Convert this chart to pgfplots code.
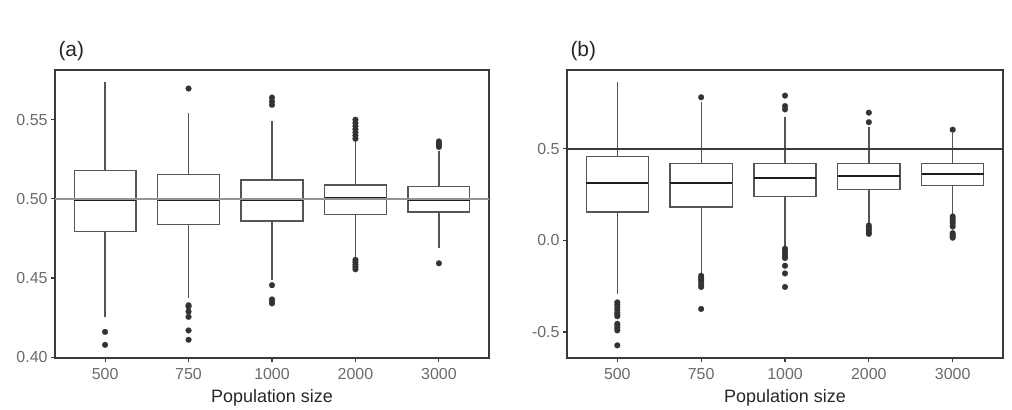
\documentclass[border=0pt]{standalone}
\usepackage{pgfplots}
\pgfplotsset{compat=1.18}
\usepgfplotslibrary{statistics}
\usepackage{fontspec}
\setmainfont{Liberation Sans}

\definecolor{boxc}{HTML}{555555}
\definecolor{axc}{HTML}{3A3A3A}
\definecolor{medc}{HTML}{1E1E1E}
\definecolor{ptc}{HTML}{333333}
\definecolor{tickc}{HTML}{6A6A6A}

\pgfplotsset{
  bx/.style={
    draw=boxc, line width=1.3bp, fill=white, solid,
    mark=*, mark size=2.9bp, mark options={draw=ptc, fill=ptc, line width=0.2bp},
    boxplot/draw direction=y,
    boxplot/box extend=0.74,
    boxplot/whisker extend=0,
    boxplot/every median/.style={line width=2.1bp, draw=medc},
  },
  common/.style={
    scale only axis, height=288bp,
    xmin=0.4, xmax=5.6, xtick={1,2,3,4,5}, xticklabels={500,750,1000,2000,3000},
    axis line style={draw=axc, line width=1.3bp},
    tick style={draw=axc, line width=1.1bp},
    tick align=outside, major tick length=4bp,
    xtick pos=bottom, ytick pos=left,
    ticklabel style={font=\fontsize{16}{19}\selectfont, color=tickc},
    xticklabel style={yshift=-3bp},
    /pgf/number format/assume math mode=true,
    xlabel={Population size}, xlabel style={font=\fontsize{18}{21}\selectfont, color=black!85, yshift=-3bp},
    title style={at={(0,1)}, anchor=base west, yshift=8bp, font=\fontsize{21}{24}\selectfont, color=black!85},
    anchor=south west,
  }
}

\begin{document}
\begin{tikzpicture}
\path[use as bounding box] (0,0) rectangle (1012bp,410bp);

% ---------- panel (a)
\begin{axis}[common, at={(55bp,52bp)}, width=434bp,
  title={(a)},
  ymin=0.3995, ymax=0.5814, ytick={0.40,0.45,0.50,0.55},
  yticklabel style={/pgf/number format/fixed, /pgf/number format/fixed zerofill, /pgf/number format/precision=2}]
\addplot[bx, boxplot prepared={draw position=1, lower whisker=0.4257, lower quartile=0.4794, median=0.4995, upper quartile=0.5178, upper whisker=0.5737}]
  coordinates {(0,0.416) (0,0.4078)};
\addplot[bx, boxplot prepared={draw position=2, lower whisker=0.4377, lower quartile=0.4838, median=0.4995, upper quartile=0.5155, upper whisker=0.5545}]
  coordinates {(0,0.5697) (0,0.4328) (0,0.432) (0,0.4288) (0,0.4255) (0,0.4169) (0,0.4110)};
\addplot[bx, boxplot prepared={draw position=3, lower whisker=0.449, lower quartile=0.4861, median=0.4995, upper quartile=0.512, upper whisker=0.549}]
  coordinates {(0,0.564) (0,0.5615) (0,0.5594) (0,0.4455) (0,0.4365) (0,0.435) (0,0.434)};
\addplot[bx, boxplot prepared={draw position=4, lower whisker=0.4618, lower quartile=0.490, median=0.5005, upper quartile=0.5088, upper whisker=0.5365}]
  coordinates {(0,0.550) (0,0.548) (0,0.546) (0,0.544) (0,0.542) (0,0.540) (0,0.538) (0,0.4615) (0,0.460) (0,0.4585) (0,0.457) (0,0.4555)};
\addplot[bx, boxplot prepared={draw position=5, lower whisker=0.4687, lower quartile=0.4918, median=0.4995, upper quartile=0.508, upper whisker=0.530}]
  coordinates {(0,0.5363) (0,0.535) (0,0.534) (0,0.5328) (0,0.4593)};
\addplot[black!42, line width=1.3bp] coordinates {(0.4,0.5) (5.6,0.5)};
\end{axis}

% ---------- panel (b)
\begin{axis}[common, at={(567bp,52bp)}, width=436bp,
  title={(b)},
  ymin=-0.642, ymax=0.931, ytick={-0.5,0,0.5},
  yticklabel style={/pgf/number format/fixed, /pgf/number format/fixed zerofill, /pgf/number format/precision=1}]
\addplot[bx, boxplot prepared={draw position=1, lower whisker=-0.292, lower quartile=0.155, median=0.313, upper quartile=0.458, upper whisker=0.864}]
  coordinates {(0,-0.338) (0,-0.352) (0,-0.366) (0,-0.38) (0,-0.395) (0,-0.405) (0,-0.414) (0,-0.455) (0,-0.465) (0,-0.478) (0,-0.491) (0,-0.573)};
\addplot[bx, boxplot prepared={draw position=2, lower whisker=-0.187, lower quartile=0.182, median=0.313, upper quartile=0.422, upper whisker=0.758}]
  coordinates {(0,0.782) (0,-0.193) (0,-0.205) (0,-0.215) (0,-0.225) (0,-0.24) (0,-0.254) (0,-0.374)};
\addplot[bx, boxplot prepared={draw position=3, lower whisker=-0.033, lower quartile=0.240, median=0.340, upper quartile=0.422, upper whisker=0.673}]
  coordinates {(0,0.791) (0,0.734) (0,0.716) (0,-0.045) (0,-0.06) (0,-0.075) (0,-0.085) (0,-0.096) (0,-0.138) (0,-0.180) (0,-0.254)};
\addplot[bx, boxplot prepared={draw position=4, lower whisker=0.087, lower quartile=0.280, median=0.354, upper quartile=0.422, upper whisker=0.622}]
  coordinates {(0,0.698) (0,0.646) (0,0.082) (0,0.07) (0,0.058) (0,0.046) (0,0.036)};
\addplot[bx, boxplot prepared={draw position=5, lower whisker=0.14, lower quartile=0.302, median=0.364, upper quartile=0.422, upper whisker=0.586}]
  coordinates {(0,0.605) (0,0.131) (0,0.118) (0,0.105) (0,0.092) (0,0.076) (0,0.040) (0,0.03) (0,0.022) (0,0.015)};
\addplot[axc, line width=1.3bp] coordinates {(0.4,0.5) (5.6,0.5)};
\end{axis}
\end{tikzpicture}
\end{document}
